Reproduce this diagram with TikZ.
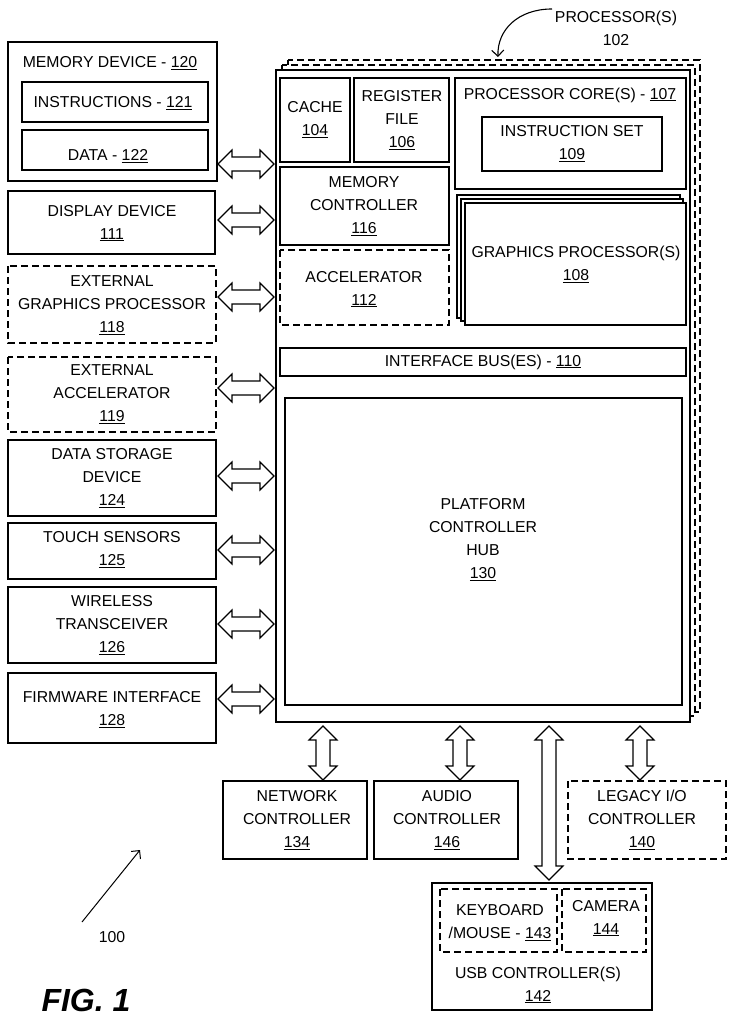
\documentclass[tikz,border=0pt]{standalone}
\usepackage{fontspec}
\setmainfont{Liberation Sans}
\usetikzlibrary{arrows.meta}
\begin{document}
\begin{tikzpicture}[x=1pt,y=-1pt,
  bx/.style={draw,line width=1.1pt},
  dbx/.style={draw,line width=1.1pt,dash pattern=on 7pt off 4pt},
  t/.style={font=\fontsize{15.8}{23}\selectfont,align=center,inner sep=0pt},
  ar/.style={draw,line width=1.1pt,fill=white,line join=miter}]
\useasboundingbox (0,0) rectangle (734,1024);
\newcommand\hdbl[3]{\draw[ar] (#1,#3)--(#1+14,#3-14)--(#1+14,#3-7)--(#2-14,#3-7)--(#2-14,#3-14)--(#2,#3)--(#2-14,#3+14)--(#2-14,#3+7)--(#1+14,#3+7)--(#1+14,#3+14)--cycle;}
\newcommand\vdbl[3]{\draw[ar] (#3,#1)--(#3-14,#1+14)--(#3-7,#1+14)--(#3-7,#2-14)--(#3-14,#2-14)--(#3,#2)--(#3+14,#2-14)--(#3+7,#2-14)--(#3+7,#1+14)--(#3+14,#1+14)--cycle;}
% processor stack
\draw[dbx,fill=white] (288,60) rectangle (700,712);
\draw[dbx,fill=white] (282,65) rectangle (695,716);
\draw[bx,fill=white] (276,70) rectangle (690,722);
\node[t] (lbl102) at (616,28) {PROCESSOR(S)\\102};
\draw[line width=1.1pt,-{Straight Barb[length=6pt]}] (552,9) .. controls (518,9) and (497,30) .. (498,57);
% inner
\draw[bx] (280,78) rectangle (350,162); \node[t] (c104) at (315,120) {CACHE\\\underline{104}};
\draw[bx] (354,78) rectangle (449,162); \node[t] (r106) at (402,120) {REGISTER\\FILE\\\underline{106}};
\draw[bx] (455,78) rectangle (686,189); \node[t] (p107) at (570,95) {PROCESSOR CORE(S) - \underline{107}};
\draw[bx] (482,117) rectangle (662,171); \node[t] (i109) at (572,144) {INSTRUCTION SET\\\underline{109}};
\draw[bx] (280,167) rectangle (449,245); \node[t] (m116) at (364,206) {MEMORY\\CONTROLLER\\\underline{116}};
\draw[dbx] (280,250) rectangle (449,325); \node[t] (a112) at (364,289) {ACCELERATOR\\\underline{112}};
\draw[bx,fill=white] (457,195) rectangle (680,318);
\draw[bx,fill=white] (461,199) rectangle (683,321);
\draw[bx,fill=white] (465,203) rectangle (686,325); \node[t] (g108) at (576,264) {GRAPHICS PROCESSOR(S)\\\underline{108}};
\draw[bx] (280,348) rectangle (686,376); \node[t] (b110) at (483,362) {INTERFACE BUS(ES) - \underline{110}};
\draw[bx] (285,398) rectangle (682,705); \node[t] (h130) at (483,540) {PLATFORM\\CONTROLLER\\HUB\\\underline{130}};
% left
\draw[bx] (8,42) rectangle (217,181); \node[t] (m120) at (110,63) {MEMORY DEVICE - \underline{120}};
\draw[bx] (22,82) rectangle (208,122); \node[t] (i121) at (113,103) {INSTRUCTIONS - \underline{121}};
\draw[bx] (22,130) rectangle (208,170); \node[t] (d122) at (108,156) {DATA - \underline{122}};
\draw[bx] (8,191) rectangle (215,254); \node[t] (d111) at (112,223) {DISPLAY DEVICE\\\underline{111}};
\draw[dbx] (8,266) rectangle (216,343); \node[t] (e118) at (112,305) {EXTERNAL\\GRAPHICS PROCESSOR\\\underline{118}};
\draw[dbx] (8,357) rectangle (216,432); \node[t] (e119) at (112,394) {EXTERNAL\\ACCELERATOR\\\underline{119}};
\draw[bx] (8,440) rectangle (216,516); \node[t] (d124) at (112,478) {DATA STORAGE\\DEVICE\\\underline{124}};
\draw[bx] (8,523) rectangle (216,579); \node[t] (t125) at (112,550) {TOUCH SENSORS\\\underline{125}};
\draw[bx] (8,587) rectangle (216,663); \node[t] (w126) at (112,625) {WIRELESS\\TRANSCEIVER\\\underline{126}};
\draw[bx] (8,673) rectangle (216,743); \node[t] (f128) at (112,710) {FIRMWARE INTERFACE\\\underline{128}};
\hdbl{218}{274}{164}\hdbl{218}{274}{220}\hdbl{218}{274}{297}\hdbl{218}{274}{388}
\hdbl{218}{274}{476}\hdbl{218}{274}{550}\hdbl{218}{274}{624}\hdbl{218}{274}{699}
% bottom
\vdbl{726}{780}{323}\vdbl{726}{780}{460}\vdbl{726}{880}{549}\vdbl{726}{780}{640}
\draw[bx] (223,781) rectangle (367,859); \node[t] (n134) at (297,820) {NETWORK\\CONTROLLER\\\underline{134}};
\draw[bx] (374,781) rectangle (518,859); \node[t] (a146) at (447,820) {AUDIO\\CONTROLLER\\\underline{146}};
\draw[dbx] (568,781) rectangle (726,859); \node[t] (l140) at (642,820) {LEGACY I/O\\CONTROLLER\\\underline{140}};
\draw[bx] (432,883) rectangle (652,1010); \node[t] (u142) at (538,985) {USB CONTROLLER(S)\\\underline{142}};
\draw[dbx] (440,889) rectangle (557,952); \node[t] (k143) at (500,923) {KEYBOARD\\/MOUSE - \underline{143}};
\draw[dbx] (562,889) rectangle (646,952); \node[t] (c144) at (606,918) {CAMERA\\\underline{144}};
% labels
\node[t] (l100) at (112,937) {100};
\draw[line width=1pt,-{Straight Barb[length=6pt]}] (82,922) -- (140,850);
\node[font=\fontsize{32}{36}\selectfont\bfseries\itshape,inner sep=0pt] (fig) at (86,1000) {FIG. 1};
\end{tikzpicture}
\end{document}
